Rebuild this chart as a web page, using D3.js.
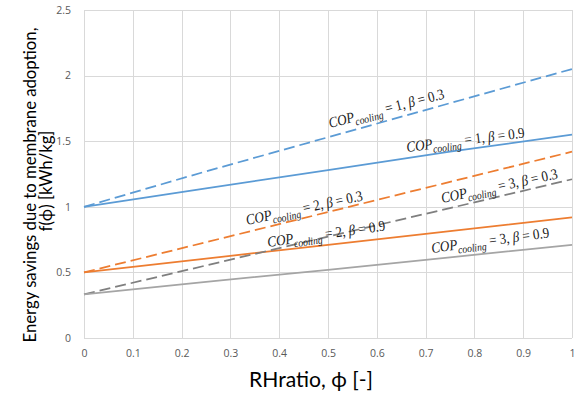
<!DOCTYPE html>
<html>
<head>
<meta charset="utf-8">
<script src="https://cdn.jsdelivr.net/npm/d3@7/dist/d3.min.js"></script>
<style>
  html, body { margin: 0; padding: 0; background: #fff; }
  svg { display: block; }
</style>
</head>
<body>
<div id="chart"></div>
<script>
// values
const phi = [0, 0.25, 0.5, 0.75, 1];
const cop1Beta03 = [1.0, 1.27, 1.53, 1.79, 2.05];
const cop1Beta09 = [1.0, 1.14, 1.28, 1.42, 1.55];
const cop2Beta03 = [0.5, 0.73, 0.96, 1.19, 1.42];
const cop2Beta09 = [0.5, 0.605, 0.71, 0.815, 0.92];
const cop3Beta03 = [0.333, 0.553, 0.773, 0.99, 1.21];
const cop3Beta09 = [0.333, 0.427, 0.52, 0.615, 0.71];
const copValues = [1, 1, 2, 2, 3, 3];
const betaValues = ["0.3", "0.9", "0.3", "0.9", "0.3", "0.9"];
const xTicks = [0, 0.1, 0.2, 0.3, 0.4, 0.5, 0.6, 0.7, 0.8, 0.9, 1];
const yTicks = [0, 0.5, 1, 1.5, 2, 2.5];

const series = [
  { values: cop1Beta03, color: "#5B9BD5", dash: "11,5" },
  { values: cop1Beta09, color: "#5B9BD5", dash: null },
  { values: cop2Beta03, color: "#ED7D31", dash: "11,5" },
  { values: cop2Beta09, color: "#ED7D31", dash: null },
  { values: cop3Beta03, color: "#7F7F7F", dash: "11,5" },
  { values: cop3Beta09, color: "#A5A5A5", dash: null }
];

// where each curve label sits (data coords of baseline start) and its tilt
const labelSpots = [
  { x: 0.504, y: 1.60, angle: -14.5 },
  { x: 0.662, y: 1.418, angle: -7 },
  { x: 0.334, y: 0.861, angle: -12 },
  { x: 0.377, y: 0.694, angle: -8 },
  { x: 0.734, y: 1.029, angle: -12 },
  { x: 0.713, y: 0.648, angle: -7.5 }
];

const W = 579, H = 399;
const margin = { top: 10, right: 7, bottom: 61, left: 84 };

const svg = d3.select("#chart").append("svg")
  .attr("width", W)
  .attr("height", H);

const x = d3.scaleLinear().domain([0, 1]).range([margin.left, W - margin.right]);
const y = d3.scaleLinear().domain([0, 2.5]).range([H - margin.bottom, margin.top]);

// gridlines
svg.append("g")
  .selectAll("line")
  .data(xTicks)
  .enter()
  .append("line")
  .attr("x1", d => Math.round(x(d)) + 0.5)
  .attr("x2", d => Math.round(x(d)) + 0.5)
  .attr("y1", y(2.5))
  .attr("y2", y(0))
  .attr("stroke", "#D9D9D9")
  .attr("stroke-width", 1);

svg.append("g")
  .selectAll("line")
  .data(yTicks)
  .enter()
  .append("line")
  .attr("x1", x(0))
  .attr("x2", x(1))
  .attr("y1", d => Math.round(y(d)) + 0.5)
  .attr("y2", d => Math.round(y(d)) + 0.5)
  .attr("stroke", "#D9D9D9")
  .attr("stroke-width", 1);

// axes (labels only, Excel style)
const xAxis = svg.append("g")
  .attr("transform", "translate(0," + (y(0) + 9) + ")")
  .call(d3.axisBottom(x).tickValues(xTicks).tickSize(0).tickFormat(d3.format("")));
xAxis.select(".domain").remove();

const yAxis = svg.append("g")
  .attr("transform", "translate(" + (x(0) - 10) + ",0)")
  .call(d3.axisLeft(y).tickValues(yTicks).tickSize(0).tickFormat(d3.format("")));
yAxis.select(".domain").remove();

svg.selectAll(".tick text")
  .attr("font-family", "'Open Sans', 'Liberation Sans', sans-serif")
  .attr("font-size", 10.5)
  .attr("fill", "#595959");

// lines
const line = d3.line()
  .x((d, i) => x(phi[i]))
  .y(d => y(d));

svg.append("g")
  .selectAll("path")
  .data(series)
  .enter()
  .append("path")
  .attr("d", d => line(d.values))
  .attr("fill", "none")
  .attr("stroke", d => d.color)
  .attr("stroke-width", 1.75)
  .attr("stroke-dasharray", d => d.dash);

// curve labels
const labels = svg.append("g")
  .attr("font-family", "'Liberation Serif', 'DejaVu Serif', serif")
  .attr("fill", "#1a1a1a");

labelSpots.forEach((spot, i) => {
  const g = labels.append("g")
    .attr("transform", "translate(" + x(spot.x) + "," + y(spot.y) + ") rotate(" + spot.angle + ")");
  const t = g.append("text").attr("font-size", 15);
  t.append("tspan").attr("font-style", "italic").text("COP");
  t.append("tspan").attr("font-style", "italic").attr("font-size", 11).attr("dy", 4).text("cooling");
  t.append("tspan").attr("dy", -4).text(" = " + copValues[i] + ",  ");
  t.append("tspan").attr("font-style", "italic").text("β");
  t.append("tspan").text(" = " + betaValues[i]);
  const w = t.node().getBBox().width;
  t.attr("transform", "scale(" + (119 / w) + ",1)");
});

// fit a text to a given width by adjusting its font size
function fitWidth(sel, target) {
  const w = sel.node().getBBox().width;
  const fs = +sel.attr("font-size");
  sel.attr("font-size", fs * target / w);
}

// axis titles
const xTitle = svg.append("text")
  .attr("transform", "translate(" + 311 + "," + 387 + ")")
  .attr("text-anchor", "middle")
  .attr("font-family", "Lato, 'Open Sans', sans-serif")
  .attr("font-size", 16)
  .attr("fill", "#000")
  .text("RHratio, ϕ [-]");
fitWidth(xTitle, 124);

const yTitle1 = svg.append("text")
  .attr("transform", "translate(" + 36 + "," + 185 + ") rotate(-90)")
  .attr("text-anchor", "middle")
  .attr("font-family", "Lato, 'Open Sans', sans-serif")
  .attr("font-size", 16)
  .attr("fill", "#000")
  .text("Energy savings due to membrane adoption,");
fitWidth(yTitle1, 315);

const yTitle2 = svg.append("text")
  .attr("transform", "translate(" + 52 + "," + 181 + ") rotate(-90)")
  .attr("text-anchor", "middle")
  .attr("font-family", "Lato, 'Open Sans', sans-serif")
  .attr("font-size", yTitle1.attr("font-size"))
  .attr("fill", "#000")
  .text("f(ϕ) [kWh/kg]");
</script>
</body>
</html>
